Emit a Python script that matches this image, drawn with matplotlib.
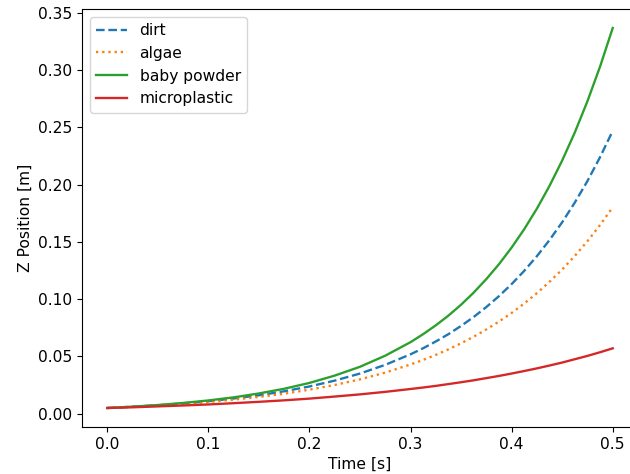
import matplotlib.pyplot as plt

# time samples [s] (denser where the curves bend more)
time = [0.0, 0.025, 0.05, 0.075, 0.1, 0.125, 0.15, 0.175, 0.2, 0.225, 0.25,
        0.275, 0.3, 0.3125, 0.325, 0.3375, 0.35, 0.3625, 0.375, 0.3875, 0.4,
        0.4125, 0.425, 0.4375, 0.45, 0.4625, 0.475, 0.4875, 0.5]

# z position [m]
dirt = [0.0050, 0.0061, 0.0074, 0.0090, 0.0109, 0.0133, 0.0161, 0.0196,
        0.0238, 0.0289, 0.0351, 0.0427, 0.0519, 0.0572, 0.0631, 0.0695,
        0.0767, 0.0845, 0.0932, 0.1027, 0.1132, 0.1248, 0.1376, 0.1517,
        0.1672, 0.1844, 0.2032, 0.2241, 0.2470]
algae = [0.0050, 0.0060, 0.0072, 0.0086, 0.0102, 0.0123, 0.0147, 0.0175,
         0.0210, 0.0251, 0.0300, 0.0359, 0.0430, 0.0470, 0.0514, 0.0562,
         0.0615, 0.0673, 0.0736, 0.0805, 0.0880, 0.0963, 0.1053, 0.1152,
         0.1260, 0.1378, 0.1507, 0.1648, 0.1803]
baby_powder = [0.0050, 0.0062, 0.0076, 0.0094, 0.0116, 0.0143, 0.0177, 0.0218,
               0.0269, 0.0333, 0.0410, 0.0507, 0.0625, 0.0695, 0.0772, 0.0857,
               0.0952, 0.1058, 0.1176, 0.1306, 0.1451, 0.1612, 0.1791, 0.1990,
               0.2211, 0.2456, 0.2729, 0.3032, 0.3368]
microplastic = [0.0050, 0.0056, 0.0064, 0.0072, 0.0081, 0.0092, 0.0104, 0.0117,
                0.0132, 0.0150, 0.0169, 0.0191, 0.0216, 0.0229, 0.0243, 0.0259,
                0.0275, 0.0292, 0.0311, 0.0330, 0.0351, 0.0373, 0.0396, 0.0421,
                0.0447, 0.0476, 0.0505, 0.0537, 0.0571]

s = 1.12
plt.rcParams['font.size'] = 10 * s

fig = plt.figure(figsize=(6.3, 4.74), dpi=100)
ax = fig.add_axes([82 / 630, 47 / 474, 556 / 630, 418 / 474])

ax.plot(time, dirt, '--', color='C0', lw=1.5 * s, label='dirt')
ax.plot(time, algae, ':', color='C1', lw=1.5 * s, label='algae')
ax.plot(time, baby_powder, '-', color='C2', lw=1.5 * s, label='baby powder')
ax.plot(time, microplastic, '-', color='C3', lw=1.5 * s, label='microplastic')
ax.set_xlim(-0.025, 0.525)

ax.set_xlabel('Time [s]')
ax.set_ylabel('Z Position [m]')
ax.legend(loc='upper left')

fig.savefig('out.png')
